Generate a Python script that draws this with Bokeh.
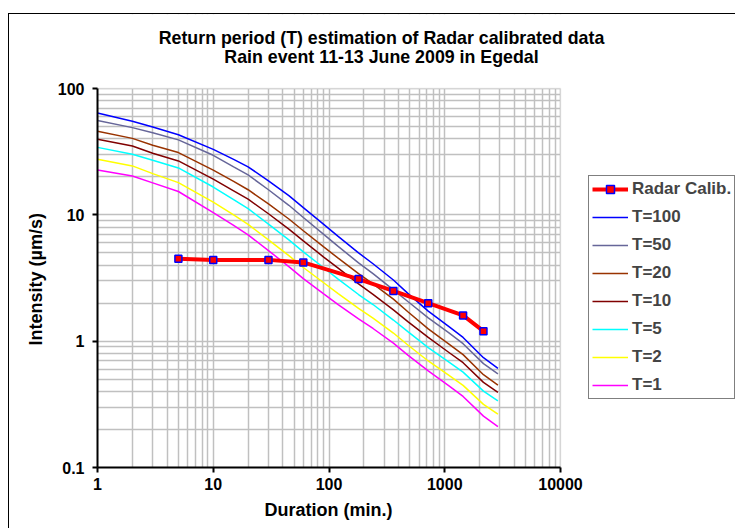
from bokeh.plotting import figure
from bokeh.models import FixedTicker, CustomJSTickFormatter, Legend, LegendItem, Label, BoxAnnotation, Title
from bokeh.embed import file_html
from bokeh.resources import INLINE

# ---- data ----
durations = [1, 2, 3, 5, 10, 15, 20, 30, 45, 60, 90, 120, 180, 240, 360, 480, 720, 1080, 1440, 2160, 2880]
t100 = [64, 55, 49.5, 43, 33, 27.5, 24, 18.6, 14.2, 11.4, 8.4, 6.75, 5.0, 4.1, 3.05, 2.39, 1.73, 1.31, 1.07, 0.74, 0.61]
t50 = [55.7, 49.0, 44.6, 39.2, 29.6, 24.0, 20.7, 15.8, 11.9, 9.53, 7.0, 5.62, 4.17, 3.42, 2.55, 2.06, 1.53, 1.17, 0.955, 0.664, 0.55]
t20 = [45.8, 40.3, 35.6, 31.1, 22.6, 18.4, 15.8, 12.2, 9.27, 7.48, 5.57, 4.54, 3.42, 2.84, 2.15, 1.71, 1.25, 0.953, 0.782, 0.543, 0.449]
t10 = [39.6, 35.1, 30.7, 26.7, 19.2, 15.5, 13.3, 10.2, 7.71, 6.22, 4.63, 3.78, 2.84, 2.35, 1.77, 1.43, 1.07, 0.817, 0.675, 0.472, 0.394]
t5 = [34.2, 30.2, 27.0, 23.5, 16.6, 13.2, 11.2, 8.45, 6.34, 5.09, 3.81, 3.10, 2.34, 1.95, 1.47, 1.19, 0.889, 0.686, 0.569, 0.402, 0.337]
t2 = [27.5, 24.4, 21.2, 18.0, 12.6, 9.98, 8.41, 6.34, 4.75, 3.83, 2.90, 2.38, 1.82, 1.52, 1.16, 0.933, 0.697, 0.538, 0.447, 0.316, 0.265]
t1 = [22.6, 20.3, 17.9, 15.3, 10.4, 8.26, 6.95, 5.21, 3.89, 3.13, 2.37, 1.95, 1.50, 1.26, 0.964, 0.776, 0.581, 0.444, 0.365, 0.255, 0.211]

radar_dur = [5, 10, 30, 60, 180, 360, 720, 1440, 2160]
radar_int = [4.5, 4.4, 4.4, 4.2, 3.1, 2.5, 2.0, 1.6, 1.2]

series_names = ["T=100", "T=50", "T=20", "T=10", "T=5", "T=2", "T=1"]
series_vals = [t100, t50, t20, t10, t5, t2, t1]
series_colors = ["#0000ff", "#666699", "#993300", "#800000", "#00ffff", "#ffff00", "#ff00ff"]

x_ticks = [1, 10, 100, 1000, 10000]
y_ticks = [0.1, 1, 10, 100]
x_lim = (1, 10000)
y_lim = (0.1, 100)

title_line1 = "Return period (T) estimation of Radar calibrated data"
title_line2 = "Rain event 11-13 June 2009 in Egedal"
x_label = "Duration (min.)"
y_label = "Intensity (\u00b5m/s)"

FONT = "Liberation Sans"

# ---- layout (pixels) ----
W, H = 727, 515
LEFT, BOTTOM = 88, 62
PLOT_W, PLOT_H = 463, 379          # pixel size of the 1..10000 x 0.1..100 area
frame_w, frame_h = W - LEFT, H - BOTTOM
x_end = x_lim[1] ** (frame_w / PLOT_W)          # frame extends right (legend area)
y_end = y_lim[0] * (y_lim[1] / y_lim[0]) ** (frame_h / PLOT_H)  # frame extends up (title area)

p = figure(width=W, height=H, x_axis_type="log", y_axis_type="log",
           x_range=(x_lim[0], x_end), y_range=(y_lim[0], y_end),
           output_backend="svg", toolbar_location=None,
           min_border_left=LEFT, min_border_right=0, min_border_top=0, min_border_bottom=BOTTOM)
p.margin = (13, 0, 0, 8)
p.styles = {"border-top": "1px solid black", "border-left": "1px solid black"}
p.background_fill_color = "white"
p.border_fill_color = "white"
p.outline_line_color = None
p.title.text = ""

xt = FixedTicker(ticks=x_ticks, minor_ticks=[m * 10 ** k for k in range(0, 4) for m in range(2, 10)])
yt = FixedTicker(ticks=y_ticks, minor_ticks=[round(m * 10.0 ** k, 3) for k in range(-1, 2) for m in range(2, 10)])
fmt = CustomJSTickFormatter(code="return tick < 1 ? tick.toFixed(1) : tick.toFixed(0);")

for ax, tk, bd in ((p.xaxis[0], xt, x_lim), (p.yaxis[0], yt, y_lim)):
    ax.ticker = tk
    ax.formatter = fmt
    ax.bounds = bd
    ax.level = "overlay"
    ax.axis_line_color = "black"
    ax.axis_line_width = 2
    ax.major_tick_line_color = "black"
    ax.major_tick_line_width = 2
    ax.major_tick_in = 0
    ax.major_tick_out = 5
    ax.minor_tick_in = 0
    ax.minor_tick_out = 0
    ax.major_label_text_font = FONT
    ax.major_label_text_font_style = "bold"
    ax.major_label_text_font_size = "16px"
    ax.major_label_text_color = "black"

p.xaxis.major_label_standoff = 5
p.yaxis.major_label_standoff = 8

# axis titles placed along the 1..10000 / 0.1..100 part of the axes
p.add_layout(Title(text=y_label, align="left", offset=122, standoff=18,
                   text_font=FONT, text_font_style="bold", text_font_size="18px",
                   text_color="black"), "left")
p.add_layout(Title(text=x_label, align="left", offset=167, standoff=10,
                   text_font=FONT, text_font_style="bold", text_font_size="18px",
                   text_color="black"), "below")

for g, tk in ((p.xgrid[0], xt), (p.ygrid[0], yt)):
    g.ticker = tk
    g.grid_line_color = "#c0c0c0"
    g.grid_line_width = 1.5
    g.minor_grid_line_color = "#c0c0c0"
    g.minor_grid_line_width = 1.5

renderers = {}
for name, vals, col in zip(series_names, series_vals, series_colors):
    renderers[name] = p.line(durations, vals, line_color=col, line_width=1.5)

rl = p.line(radar_dur, radar_int, line_color="#ff0000", line_width=4)
rs = p.scatter(radar_dur, radar_int, marker="square", size=7, fill_color="#ff0000",
               line_color="#0000ff", line_width=1.5)

# white cover outside the plot area, then the grey plot-area border
p.add_layout(BoxAnnotation(left=x_lim[1], fill_color="white", fill_alpha=1.0, line_color=None))
p.add_layout(BoxAnnotation(bottom=y_lim[1], fill_color="white", fill_alpha=1.0, line_color=None))
p.add_layout(BoxAnnotation(left=x_lim[0], right=x_lim[1], bottom=y_lim[0], top=y_lim[1],
                           fill_alpha=0.0, line_color="#c0c0c0", line_width=1.5))

items = [LegendItem(label="Radar Calib.", renderers=[rl, rs])]
for name in series_names:
    items.append(LegendItem(label=name, renderers=[renderers[name]]))

legend = Legend(items=items, location=(491, 68),
                label_text_font=FONT, label_text_font_style="bold", label_text_font_size="17px",
                glyph_width=36, glyph_height=20, label_height=20, spacing=8, padding=3,
                label_standoff=4, margin=0,
                border_line_color="black", border_line_width=1,
                background_fill_color="white", background_fill_alpha=1.0)
p.add_layout(legend)

for txt, yy in ((title_line1, 430), (title_line2, 411)):
    p.add_layout(Label(x=284, y=yy, x_units="screen", y_units="screen", text=txt,
                       text_align="center", text_baseline="middle",
                       text_font=FONT, text_font_style="bold", text_font_size="17.8px",
                       text_color="black"))

open("out.html", "w").write(file_html(p, INLINE))
